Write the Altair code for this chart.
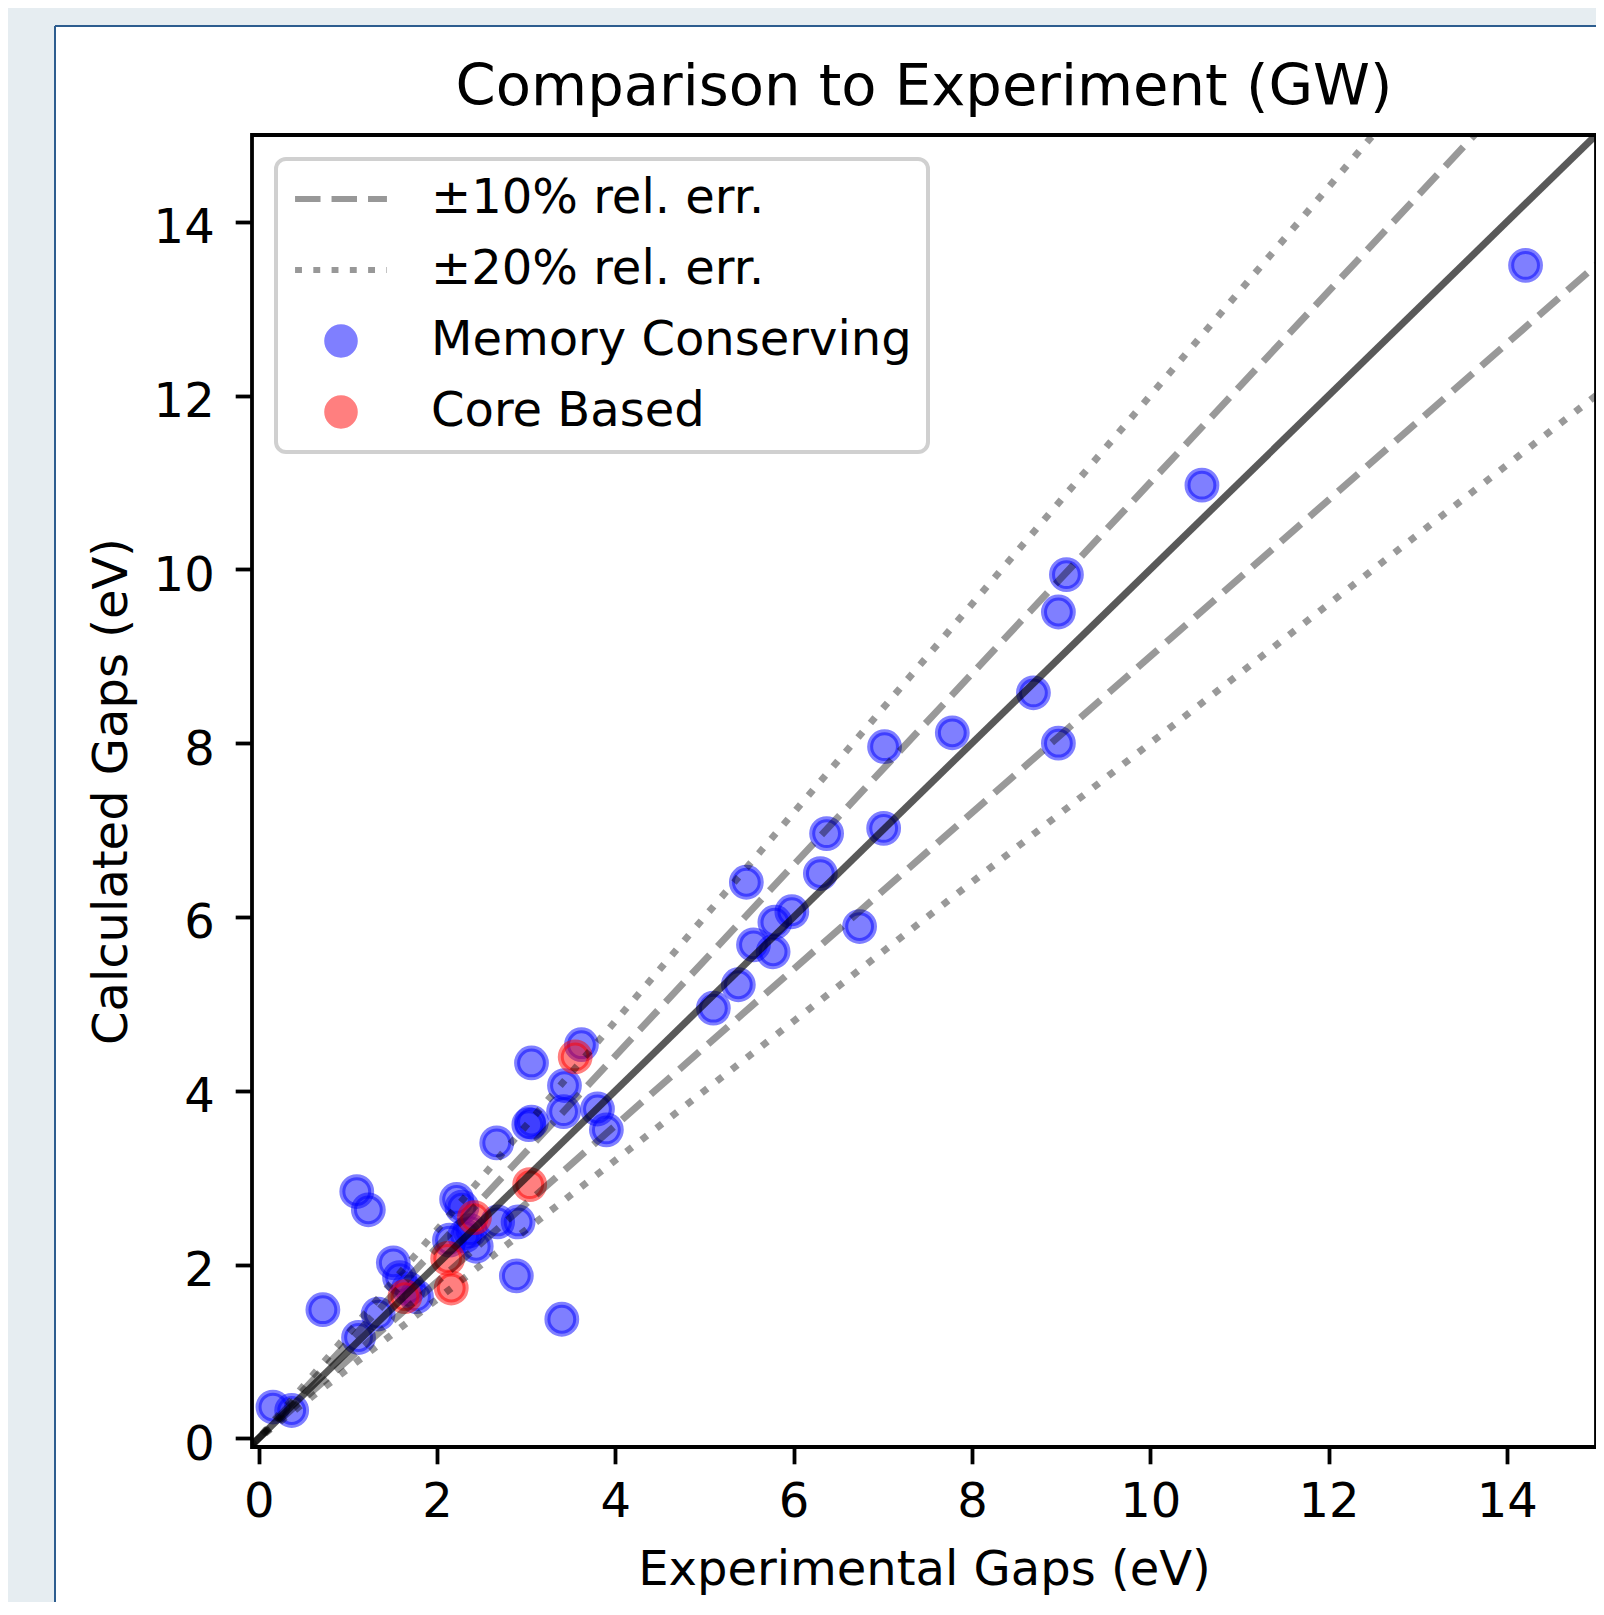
import altair as alt
import pandas as pd

# ---------------- data ----------------
mc_exp = [14.21, 10.58, 9.06, 8.97, 8.69, 8.97, 7.78, 7.02, 7.01, 6.37,
          6.30, 5.47, 5.98, 5.79, 6.74, 5.55, 5.77, 5.38, 5.10, 3.62,
          3.06, 3.43, 3.42, 3.06, 3.03, 3.80, 3.90, 2.67, 1.10, 1.23,
          2.22, 2.28, 2.68, 2.91, 2.14, 2.31, 2.44, 2.37, 2.89, 3.40,
          1.51, 1.58, 1.68, 1.77, 0.72, 1.34, 1.12, 0.16, 0.37]
mc_calc = [13.50, 10.97, 9.94, 9.51, 8.58, 8.00, 8.12, 7.96, 7.02, 6.96,
           6.50, 6.40, 6.06, 5.94, 5.89, 5.68, 5.60, 5.22, 4.95, 4.53,
           4.32, 4.06, 3.76, 3.64, 3.61, 3.79, 3.55, 3.40, 2.84, 2.63,
           2.75, 2.66, 2.49, 2.49, 2.28, 2.33, 2.21, 2.39, 1.87, 1.37,
           2.02, 1.85, 1.72, 1.63, 1.48, 1.43, 1.16, 0.36, 0.32]
cb_exp = [3.55, 3.04, 2.42, 2.12, 2.16, 1.64]
cb_calc = [4.39, 2.92, 2.54, 2.07, 1.73, 1.63]

series_names = ["Memory Conserving", "Core Based"]
line_labels = ["±10% rel. err.", "±20% rel. err."]

ref_factors = [1.0, 1.1, 0.9, 1.2, 0.8]
ref_styles = ["solid", "dashed", "dashed", "dotted", "dotted"]
ref_x_ends = [-0.1, 16.0]

x_domain = [-0.075, 15.0]
y_domain = [-0.1, 15.0]
x_ticks = [0, 2, 4, 6, 8, 10, 12, 14]
y_ticks = [0, 2, 4, 6, 8, 10, 12, 14]

title_text = "Comparison to Experiment (GW)"
x_title = "Experimental Gaps (eV)"
y_title = "Calculated Gaps (eV)"

# ---------------- tables ----------------
points_df = pd.DataFrame({
    "exp": mc_exp + cb_exp,
    "calc": mc_calc + cb_calc,
    "series": [series_names[0]] * len(mc_exp) + [series_names[1]] * len(cb_exp),
})

rows = []
for i, (k, s) in enumerate(zip(ref_factors, ref_styles)):
    for xv in ref_x_ends:
        rows.append({"x": xv, "y": k * xv, "id": i, "style": s})
lines_df = pd.DataFrame(rows)

# ---------------- geometry / style ----------------
W, H = 1344, 1312
FONT = "DejaVu Sans"
PAGE_GRAY = "#e6edf1"
BORDER_BLUE = "#2d5d8f"

legend_domain = line_labels + series_names
dash_path = "M-3.333,0L-1.486,0M-0.686,0L1.161,0M1.961,0L3.333,0"
dot_path = ("M-3.333,0L-2.833,0M-2.008,0L-1.508,0M-0.683,0L-0.183,0"
            "M0.642,0L1.142,0M1.967,0L2.467,0M3.292,0L3.333,0")
shape_range = [dash_path, dot_path, "circle", "circle"]
fill_range = ["#333333", "#333333", "blue", "red"]
stroke_range = ["#333333", "#333333", "blue", "red"]

legend = alt.Legend(
    title=None, orient="none", legendX=24, legendY=24,
    padding=16, symbolSize=760, symbolStrokeWidth=6, symbolOpacity=0.5,
    symbolOffset=25, labelOffset=66, rowPadding=23, clipHeight=48,
    labelFontSize=48, labelFont=FONT, labelColor="black", labelLimit=1000,
    fillColor="rgba(255,255,255,0.8)", strokeColor="#d0d0d0", cornerRadius=10,
)

x_enc = alt.X(
    "exp:Q", title=x_title,
    scale=alt.Scale(domain=x_domain, nice=False, zero=False),
    axis=alt.Axis(values=x_ticks, format="d", domain=False, grid=False,
                  tickSize=16.8, tickWidth=3.8, tickColor="black",
                  labelFontSize=48, labelFont=FONT, labelColor="black",
                  labelPadding=15, labelFlush=False, labelOverlap=False,
                  titleFontSize=48, titleFont=FONT, titleFontWeight="normal",
                  titleColor="black", titleX=W / 2, titleY=137,
                  titleBaseline="alphabetic", titleAlign="center", zindex=1),
)
y_enc = alt.Y(
    "calc:Q", title=y_title,
    scale=alt.Scale(domain=y_domain, nice=False, zero=False),
    axis=alt.Axis(values=y_ticks, format="d", domain=False, grid=False,
                  tickSize=16.8, tickWidth=3.8, tickColor="black",
                  labelFontSize=48, labelFont=FONT, labelColor="black",
                  labelPadding=21, labelBaseline="alphabetic", labelOffset=21,
                  labelFlush=False, labelOverlap=False,
                  titleFontSize=48, titleFont=FONT, titleFontWeight="normal",
                  titleColor="black", titleX=-126, titleY=H / 2, titleAngle=270,
                  titleBaseline="alphabetic", titleAlign="center", zindex=1),
)

one = alt.Data(values=[{}])
# page decoration: grey strips left/top of the white panel, and its blue edge
gray_left = alt.Chart(one).mark_rect(fill=PAGE_GRAY).encode(
    x=alt.value(-260), x2=alt.value(-197), y=alt.value(-127), y2=alt.value(3000))
gray_top = alt.Chart(one).mark_rect(fill=PAGE_GRAY).encode(
    x=alt.value(-260), x2=alt.value(3000), y=alt.value(-127), y2=alt.value(-109))
edge_v = alt.Chart(one).mark_rule(color=BORDER_BLUE, strokeWidth=2).encode(
    x=alt.value(-197), y=alt.value(-109), y2=alt.value(3000))
edge_h = alt.Chart(one).mark_rule(color=BORDER_BLUE, strokeWidth=2).encode(
    x=alt.value(-197), x2=alt.value(3000), y=alt.value(-109))

points = alt.Chart(points_df).mark_point(
    filled=True, size=830, fillOpacity=0.5, strokeOpacity=0.5, strokeWidth=6
).encode(
    x=x_enc, y=y_enc,
    fill=alt.Fill("series:N", scale=alt.Scale(domain=legend_domain, range=fill_range), legend=legend),
    stroke=alt.Stroke("series:N", scale=alt.Scale(domain=legend_domain, range=stroke_range), legend=legend),
    shape=alt.Shape("series:N", scale=alt.Scale(domain=legend_domain, range=shape_range), legend=legend),
)

base_lines = alt.Chart(lines_df).encode(
    x=alt.X("x:Q"), y=alt.Y("y:Q"), detail="id:N"
)
solid = base_lines.transform_filter("datum.style == 'solid'").mark_line(
    clip=True, color="black", strokeOpacity=0.65, strokeWidth=7)
dashed = base_lines.transform_filter("datum.style == 'dashed'").mark_line(
    clip=True, color="black", strokeOpacity=0.4, strokeWidth=7, strokeDash=[26.6, 11.5])
dotted = base_lines.transform_filter("datum.style == 'dotted'").mark_line(
    clip=True, color="black", strokeOpacity=0.4, strokeWidth=7, strokeDash=[7.2, 11.9])

frame = alt.Chart(one).mark_rect(
    fillOpacity=0, stroke="black", strokeWidth=3.8
).encode(x=alt.value(0), x2=alt.value(W), y=alt.value(0), y2=alt.value(H))

chart = alt.layer(gray_left, gray_top, edge_v, edge_h, points, solid, dashed, dotted, frame).properties(
    width=W, height=H,
    autosize=alt.AutoSizeParams(type="none"),
    padding={"left": 244, "top": 127, "right": 0, "bottom": 155},
    background="white",
    title=alt.TitleParams(title_text, fontSize=57.6, font=FONT, fontWeight="normal",
                          color="black", anchor="middle", frame="group",
                          baseline="alphabetic", offset=0, dy=154.8),
).configure_view(stroke=None).configure_legend(strokeWidth=4)

chart.save("out.html", embed_options={"renderer": "svg", "actions": False})
